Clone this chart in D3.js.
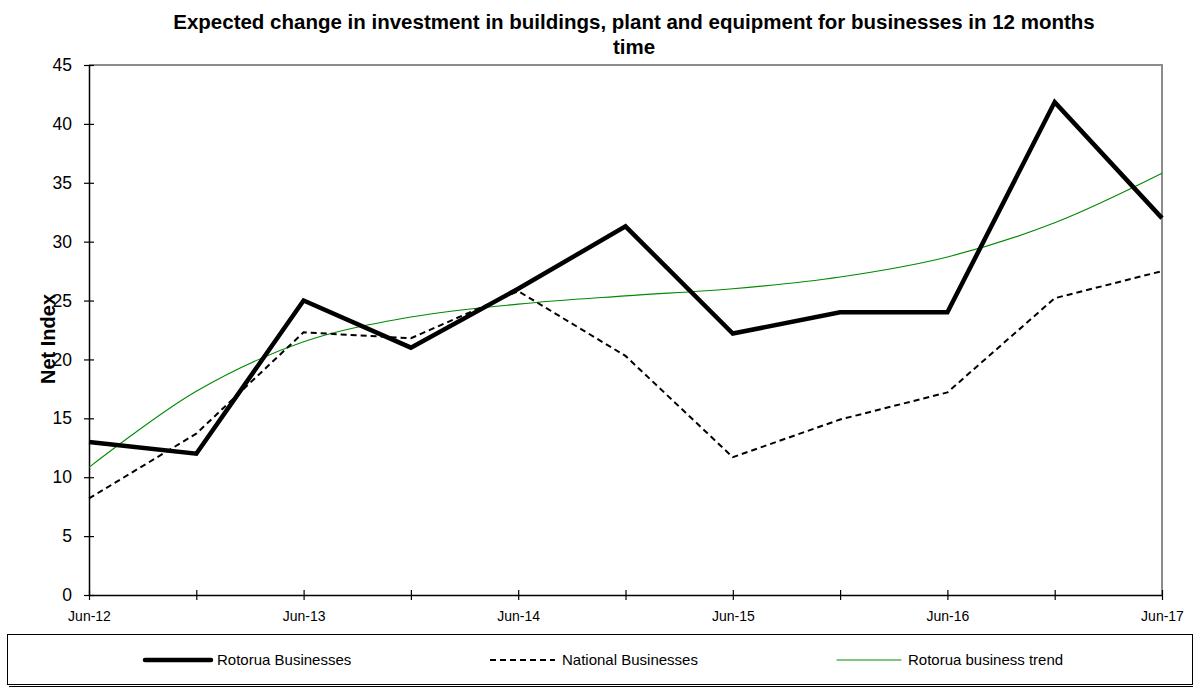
<!DOCTYPE html>
<html>
<head>
<meta charset="utf-8">
<script src="https://cdn.jsdelivr.net/npm/d3@7"></script>
<style>
  body { margin: 0; background: #fff; }
  svg { display: block; font-family: "Liberation Sans", Arial, sans-serif; }
</style>
</head>
<body>
<div id="chart"></div>
<script>
// categories (half-yearly)
const periods = ["Jun-12", "Dec-12", "Jun-13", "Dec-13", "Jun-14", "Dec-14",
  "Jun-15", "Dec-15", "Jun-16", "Dec-16", "Jun-17"];
const tickLabels = ["Jun-12", "Jun-13", "Jun-14", "Jun-15", "Jun-16", "Jun-17"];
const rotorua = [13, 12, 25, 21, 26, 31.3, 22.2, 24, 24, 41.85, 32];
const national = [8.2, 13.7, 22.3, 21.8, 25.8, 20.3, 11.7, 14.9, 17.2, 25.2, 27.5];
const trend = [10.84, 17.3, 21.5, 23.6, 24.7, 25.4, 26.0, 27.0, 28.7, 31.6, 35.8];
const yTicks = [0, 5, 10, 15, 20, 25, 30, 35, 40, 45];

const W = 1194, H = 687;
const margin = { top: 65, right: 32, bottom: 92, left: 89 };
const width = W - margin.left - margin.right;
const height = H - margin.top - margin.bottom;

const svg = d3.select("#chart").append("svg")
  .attr("width", W).attr("height", H);

// title
svg.append("text")
  .attr("x", 634).attr("y", 29)
  .attr("text-anchor", "middle")
  .style("font-weight", "bold").style("font-size", "20.5px")
  .text("Expected change in investment in buildings, plant and equipment for businesses in 12 months");
svg.append("text")
  .attr("x", 634).attr("y", 54)
  .attr("text-anchor", "middle")
  .style("font-weight", "bold").style("font-size", "20.5px")
  .text("time");

const g = svg.append("g")
  .attr("transform", "translate(" + margin.left + "," + margin.top + ")");

const x = d3.scalePoint()
  .domain(periods)
  .range([0, width]);

const y = d3.scaleLinear()
  .domain([0, 45])
  .range([height, 0]);

// top and right frame (grey)
g.append("path")
  .attr("d", "M0,0H" + width + "V" + height)
  .attr("fill", "none")
  .attr("stroke", "#8c8c8c")
  .attr("stroke-width", 2);

// Y axis
const yAxis = g.append("g")
  .call(d3.axisLeft(y).tickValues(yTicks).tickSize(0).tickPadding(17));
yAxis.select(".domain").attr("stroke", "#000").attr("stroke-width", 1.5);
yAxis.selectAll("text").style("font-size", "17.5px").attr("fill", "#000");
yAxis.selectAll(".tick").append("line")
  .attr("x1", -5).attr("x2", 5)
  .attr("stroke", "#000").attr("stroke-width", 1.2);

// X axis
const xAxis = g.append("g")
  .attr("transform", "translate(0," + height + ")")
  .call(d3.axisBottom(x).tickSize(0).tickPadding(16)
    .tickFormat(d => tickLabels.includes(d) ? d : ""));
xAxis.select(".domain").attr("stroke", "#000").attr("stroke-width", 1.5);
xAxis.selectAll("text").style("font-size", "14px").attr("fill", "#000");
xAxis.selectAll(".tick").append("line")
  .attr("y1", -5).attr("y2", 5)
  .attr("stroke", "#000").attr("stroke-width", 1.2);

// y label (sits over the tick labels, as in the original)
svg.append("text")
  .attr("transform", "translate(55,339) rotate(-90)")
  .attr("text-anchor", "middle")
  .style("font-weight", "bold").style("font-size", "20px")
  .text("Net Index");

// lines
const line = d3.line()
  .x((d, i) => x(periods[i]))
  .y(d => y(d));

g.append("path")
  .datum(trend)
  .attr("d", line.curve(d3.curveCatmullRom))
  .attr("fill", "none")
  .attr("stroke", "#008a00")
  .attr("stroke-width", 1.1);

g.append("path")
  .datum(national)
  .attr("d", line.curve(d3.curveLinear))
  .attr("fill", "none")
  .attr("stroke", "#000")
  .attr("stroke-width", 2)
  .attr("stroke-dasharray", "6,4");

g.append("path")
  .datum(rotorua)
  .attr("d", line.curve(d3.curveLinear))
  .attr("fill", "none")
  .attr("stroke", "#000")
  .attr("stroke-width", 4.5)
  .attr("stroke-linejoin", "miter");

// legend
const lg = svg.append("g");
lg.append("rect")
  .attr("x", 9).attr("y", 686).attr("width", 1184).attr("height", 2)
  .attr("fill", "#000");
lg.append("rect")
  .attr("x", 7.5).attr("y", 634.5).attr("width", 1185).attr("height", 50)
  .attr("fill", "#fff").attr("stroke", "#000").attr("stroke-width", 1);

const legendItems = [
  { name: "Rotorua Businesses", x1: 145, x2: 211, tx: 217, w: 4.5, dash: null, color: "#000" },
  { name: "National Businesses", x1: 490, x2: 555, tx: 562, w: 2, dash: "6,4", color: "#000" },
  { name: "Rotorua business trend", x1: 837, x2: 901, tx: 908, w: 1.1, dash: null, color: "#008a00" }
];
legendItems.forEach(d => {
  lg.append("line")
    .attr("x1", d.x1).attr("x2", d.x2)
    .attr("y1", 660).attr("y2", 660)
    .attr("stroke", d.color)
    .attr("stroke-width", d.w)
    .attr("stroke-linecap", d.dash ? "butt" : "round")
    .attr("stroke-dasharray", d.dash);
  lg.append("text")
    .attr("x", d.tx).attr("y", 665)
    .style("font-size", "15px")
    .text(d.name);
});
</script>
</body>
</html>
